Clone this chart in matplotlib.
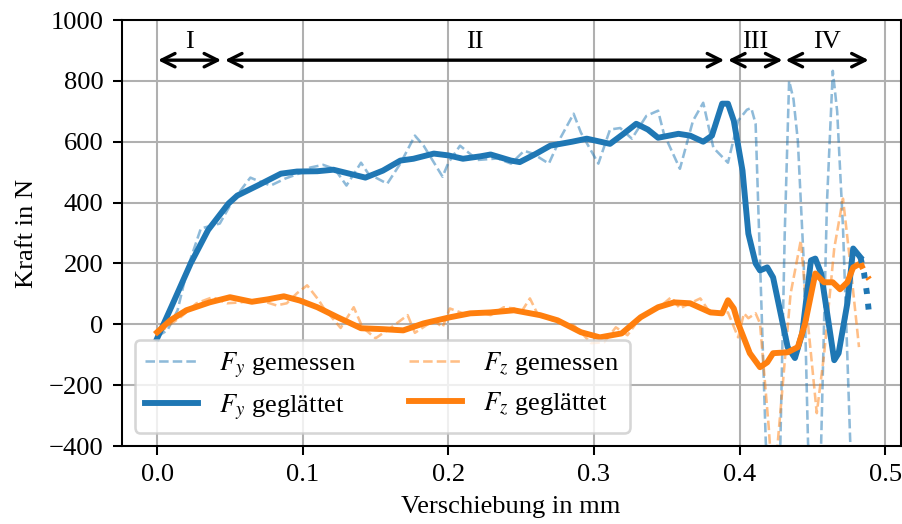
import numpy as np
import matplotlib
matplotlib.use("Agg")
import matplotlib.pyplot as plt

plt.rcParams['font.family'] = 'serif'
plt.rcParams['font.serif'] = ['Liberation Serif', 'DejaVu Serif']
plt.rcParams['mathtext.fontset'] = 'stix'
plt.rcParams['font.size'] = 10.3

# ---- Messdaten (Rohsignal) ----
x_fy_mess = [0.000, 0.007, 0.014, 0.021, 0.030, 0.043, 0.052, 0.064, 0.070, 0.078,
             0.088, 0.100, 0.105, 0.114, 0.122, 0.130, 0.140, 0.145, 0.158, 0.167,
             0.177, 0.183, 0.196, 0.200, 0.208, 0.220, 0.234, 0.243, 0.252, 0.258,
             0.269, 0.277, 0.286, 0.291, 0.303, 0.311, 0.318, 0.326, 0.336, 0.344,
             0.348, 0.359, 0.368, 0.375, 0.382, 0.392, 0.399, 0.405, 0.408, 0.411,
             0.414, 0.418, 0.423, 0.428, 0.431, 0.434, 0.437, 0.440, 0.444, 0.447,
             0.451, 0.456, 0.460, 0.464, 0.467, 0.471, 0.476, 0.479]
y_fy_mess = [-40, -20, 46, 187, 315, 331, 407, 482, 470, 456,
             479, 500, 515, 524, 510, 456, 531, 495, 462, 528,
             620, 587, 485, 531, 587, 540, 545, 528, 570, 561,
             528, 613, 692, 630, 528, 640, 645, 610, 685, 702,
             626, 511, 669, 728, 580, 531, 669, 705, 711, 659,
             210, -390, -650, -390, 300, 800, 740, 603, 210, -390,
             -650, -390, 400, 833, 700, 318, -390, -700]

x_fz_mess = [0.000, 0.005, 0.010, 0.016, 0.027, 0.038, 0.048, 0.057, 0.070, 0.082,
             0.089, 0.096, 0.103, 0.111, 0.114, 0.126, 0.135, 0.141, 0.150, 0.160,
             0.172, 0.177, 0.190, 0.196, 0.201, 0.210, 0.222, 0.229, 0.238, 0.245,
             0.250, 0.256, 0.261, 0.275, 0.286, 0.291, 0.298, 0.307, 0.315, 0.323,
             0.332, 0.344, 0.353, 0.359, 0.366, 0.373, 0.380, 0.392, 0.399, 0.403,
             0.406, 0.411, 0.414, 0.420, 0.423, 0.426, 0.435, 0.442, 0.447, 0.453,
             0.458, 0.465, 0.471, 0.476, 0.482]
y_fz_mess = [-25, -15, 3, 23, 69, 89, 69, 72, 80, 62,
             69, 102, 128, 79, 56, -12, 56, -10, -46, -13,
             30, -28, 13, -10, 52, 36, 39, 30, 56, 52,
             40, 85, 36, 5, -3, -26, -62, -59, -10, -36,
             23, 52, 89, 52, 69, 85, 36, 39, -43, 36,
             20, 36, 3, -338, -550, -400, 100, 275, 0, -292,
             -100, 250, 413, 200, -75]

# ---- geglaettete Verlaeufe ----
x_fy_glatt = [0.000, 0.010, 0.023, 0.035, 0.049, 0.055, 0.069, 0.085, 0.096, 0.110,
              0.121, 0.132, 0.143, 0.155, 0.167, 0.176, 0.190, 0.200, 0.210, 0.222,
              0.229, 0.243, 0.249, 0.260, 0.270, 0.285, 0.295, 0.311, 0.320, 0.329,
              0.337, 0.344, 0.358, 0.366, 0.375, 0.381, 0.388, 0.392, 0.396, 0.402,
              0.406, 0.411, 0.414, 0.419, 0.423, 0.433, 0.438, 0.443, 0.449, 0.452,
              0.456, 0.465, 0.468, 0.474, 0.478, 0.483]
y_fy_glatt = [-46, 60, 200, 310, 397, 423, 456, 495, 502, 503,
              508, 495, 482, 505, 538, 544, 561, 555, 544, 552,
              558, 538, 533, 560, 587, 600, 610, 593, 625, 659,
              640, 613, 626, 620, 600, 620, 725, 725, 669, 505,
              298, 200, 177, 187, 154, -75, -111, -30, 210, 216,
              167, -118, -95, 69, 249, 220]
# Randbereich des Filters (gepunktet)
x_fy_rand = [0.483, 0.4855, 0.4875, 0.489]
y_fy_rand = [220, 167, 100, 30]

x_fz_glatt = [0.000, 0.009, 0.020, 0.036, 0.050, 0.065, 0.076, 0.087, 0.098, 0.110,
              0.124, 0.140, 0.155, 0.169, 0.183, 0.201, 0.215, 0.229, 0.245, 0.263,
              0.275, 0.291, 0.304, 0.319, 0.332, 0.344, 0.355, 0.366, 0.380, 0.388,
              0.392, 0.396, 0.399, 0.407, 0.414, 0.419, 0.423, 0.433, 0.440, 0.445,
              0.452, 0.458, 0.464, 0.469, 0.474, 0.478, 0.483]
y_fz_glatt = [-26, 13, 46, 72, 89, 74, 82, 92, 78, 56,
              23, -13, -16, -20, 3, 23, 36, 39, 46, 30,
              13, -26, -43, -30, 23, 56, 72, 69, 39, 36,
              79, 52, 3, -95, -141, -125, -95, -92, -75, 3,
              167, 138, 138, 115, 138, 187, 200]
x_fz_rand = [0.483, 0.486, 0.489]
y_fz_rand = [200, 170, 148]

# Abschnitte I - IV (Pfeilanfang, Pfeilende)
pfeil_start = [0.0005, 0.0465, 0.392, 0.4315]
pfeil_ende = [0.044, 0.3895, 0.4295, 0.4887]
abschnitte = ['I', 'II', 'III', 'IV']

blau = 'tab:blue'
orange = 'tab:orange'

fig = plt.figure(figsize=(902 / 185, 524 / 185), dpi=185)
ax = fig.add_axes([121.5 / 902, 1 - 446 / 524, (900.5 - 121.5) / 902, (446 - 20) / 524])

ax.plot(x_fy_mess, y_fy_mess, '--', color=blau, alpha=0.5, lw=1, zorder=2, label=r'$F_y$ gemessen')
ax.plot(x_fy_glatt, y_fy_glatt, '-', color=blau, lw=2.3, zorder=3, label=r'$F_y$ geglättet')
ax.plot(x_fz_mess, y_fz_mess, '--', color=orange, alpha=0.5, lw=1, zorder=2, label=r'$F_z$ gemessen')
ax.plot(x_fz_glatt, y_fz_glatt, '-', color=orange, lw=2.3, zorder=3, label=r'$F_z$ geglättet')
ax.plot(x_fy_rand, y_fy_rand, ':', color=blau, lw=2.3, zorder=3)
ax.plot(x_fz_rand, y_fz_rand, ':', color=orange, lw=2.3, zorder=3)

# Pfeile fuer die Abschnitte
for a, b, name in zip(pfeil_start, pfeil_ende, abschnitte):
    ax.annotate('', xy=(b, 868), xytext=(a, 868),
                arrowprops=dict(arrowstyle='<->', color='k', lw=1.3,
                                shrinkA=0, shrinkB=0, mutation_scale=13))
    ax.text((a + b) / 2, 927, name, ha='center', va='center')

ax.set_xlim(-0.0245, 0.5105)
ax.set_ylim(-400, 1000)
ax.set_xticks([0.0, 0.1, 0.2, 0.3, 0.4, 0.5])
ax.set_yticks(np.arange(-400, 1001, 200))
ax.grid(True)
ax.set_xlabel('Verschiebung in mm')
ax.set_ylabel('Kraft in N')
ax.legend(loc='lower left', ncol=2)

fig.savefig('out.png', dpi=185)
